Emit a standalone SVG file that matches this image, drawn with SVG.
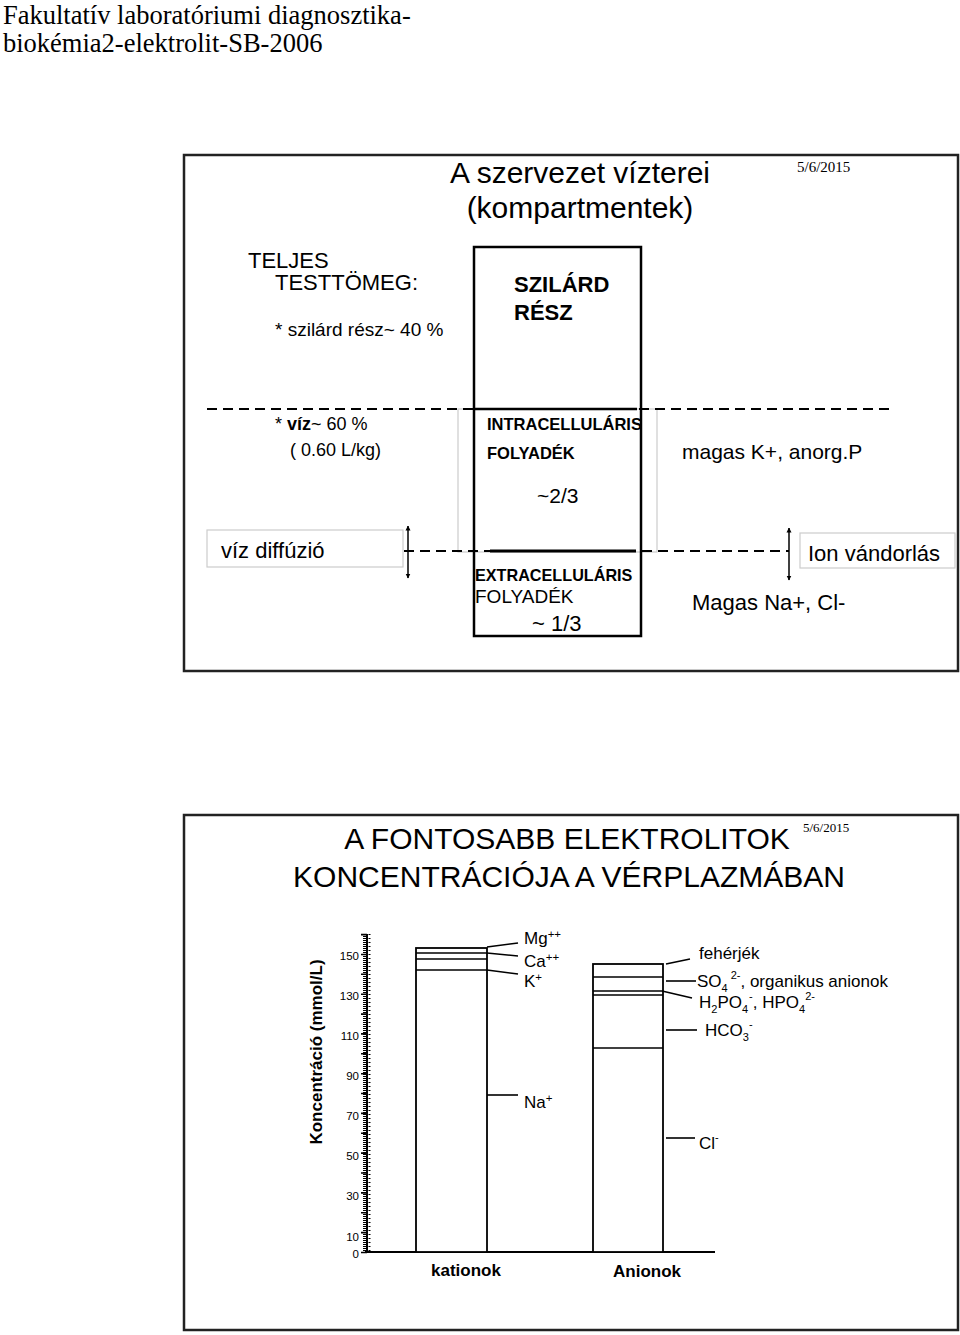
<svg xmlns="http://www.w3.org/2000/svg" width="960" height="1335" viewBox="0 0 960 1335">
<style>
.s{font-family:"Liberation Sans",Arial,sans-serif;fill:#000}
.b{font-weight:bold}
.t{font-family:"Liberation Serif","Times New Roman",serif;fill:#000}
.frame{fill:#fff;stroke:#222;stroke-width:2.5}
.dash{stroke:#000;stroke-width:2;stroke-dasharray:10 6;fill:none}
.thin{fill:none;stroke:#ccc;stroke-width:1.2}
.ln{stroke:#000;stroke-width:1.6;fill:none}
.bar{fill:#fff;stroke:#000;stroke-width:1.8}
</style>
<defs>
<marker id="ah" viewBox="0 0 10 10" refX="9" refY="5" markerWidth="5" markerHeight="6" orient="auto-start-reverse" markerUnits="userSpaceOnUse">
<path d="M0,0 L10,5 L0,10 Z" fill="#000"/>
</marker>
</defs>
<rect width="960" height="1335" fill="#fff"/>

<g id="header">
<text class="t" x="3" y="24" font-size="26.5">Fakultatív laboratóriumi diagnosztika-</text>
<text class="t" x="3" y="52" font-size="26.5">biokémia2-elektrolit-SB-2006</text>
</g>

<g id="slide1">
<rect class="frame" x="184" y="155" width="774" height="516"/>
<text class="s" x="580" y="183" font-size="30" text-anchor="middle">A szervezet vízterei</text>
<text class="s" x="580" y="218" font-size="30" text-anchor="middle">(kompartmentek)</text>
<text class="t" x="797" y="172" font-size="15">5/6/2015</text>
<text class="s" x="248" y="268" font-size="22">TELJES</text>
<text class="s" x="275" y="290" font-size="22">TESTTÖMEG:</text>
<text class="s" x="275" y="336" font-size="19">* szilárd rész~ 40 %</text>
<text class="s" x="275" y="430" font-size="18">* <tspan class="b">víz</tspan>~ 60 %</text>
<text class="s" x="290" y="456" font-size="18">( 0.60 L/kg)</text>
<text class="s" x="682" y="459" font-size="21">magas K+, anorg.P</text>
<text class="s" x="692" y="610" font-size="22">Magas Na+, Cl-</text>
</g>

<g id="ic-area">
<rect class="thin" x="458" y="409" width="199" height="143"/>
</g>

<g id="inner-box">
<rect x="474" y="247" width="167" height="389" fill="none" stroke="#000" stroke-width="2.5"/>
<text class="s b" x="514" y="292" font-size="22">SZILÁRD</text>
<text class="s b" x="514" y="320" font-size="22">RÉSZ</text>
<text class="s b" x="487" y="430" font-size="16.5">INTRACELLULÁRIS</text>
<text class="s b" x="487" y="459" font-size="16.5">FOLYADÉK</text>
<text class="s" x="537" y="503" font-size="21">~2/3</text>
<text class="s b" x="475" y="581" font-size="16.2">EXTRACELLULÁRIS</text>
<text class="s" x="475" y="603" font-size="19">FOLYADÉK</text>
<text class="s" x="532" y="631" font-size="22">~ 1/3</text>
</g>

<g id="viz-diffuzio">
<rect class="thin" x="207" y="530" width="196" height="37"/>
<text class="s" x="221" y="558" font-size="22">víz diffúzió</text>
</g>

<g id="ion-vandorlas">
<rect class="thin" x="800" y="533" width="155" height="35"/>
<text class="s" x="808" y="561" font-size="22">Ion vándorlás</text>
</g>

<g id="connectors">
<line class="dash" x1="207" y1="409" x2="893" y2="409"/>
<line x1="474" y1="409" x2="637" y2="409" stroke="#000" stroke-width="2.5"/>
<line class="dash" x1="404" y1="551" x2="490" y2="551"/>
<line x1="490" y1="551" x2="636" y2="551" stroke="#000" stroke-width="2.8"/>
<line class="dash" x1="642" y1="551" x2="789" y2="551"/>
<line x1="408" y1="526" x2="408" y2="578" stroke="#000" stroke-width="1.5" marker-start="url(#ah)" marker-end="url(#ah)"/>
<line x1="789" y1="528" x2="789" y2="580" stroke="#000" stroke-width="1.5" marker-start="url(#ah)" marker-end="url(#ah)"/>
</g>

<g id="slide2">
<rect class="frame" x="184" y="815" width="774" height="515"/>
<text class="s" x="567" y="849" font-size="30" text-anchor="middle">A FONTOSABB ELEKTROLITOK</text>
<text class="s" x="569" y="887" font-size="30" text-anchor="middle">KONCENTRÁCIÓJA A VÉRPLAZMÁBAN</text>
<text class="t" x="803" y="832" font-size="13">5/6/2015</text>
</g>

<g id="axis">
<text class="s b" transform="translate(322,1052) rotate(-90)" font-size="17" text-anchor="middle">Koncentráció (mmol/L)</text>
<line x1="367" y1="934" x2="367" y2="1252" stroke="#000" stroke-width="2"/>
<line x1="364.5" y1="934" x2="364.5" y2="1252" stroke="#000" stroke-width="3" stroke-dasharray="1 1"/>
<line x1="369.5" y1="934" x2="369.5" y2="1252" stroke="#000" stroke-width="2" stroke-dasharray="1 3"/>
<path d="M361,1252.5h6M361,1232.6h6M361,1212.7h6M361,1192.9h6M361,1173h6M361,1153.1h6M361,1133.3h6M361,1113.4h6M361,1093.5h6M361,1073.7h6M361,1053.8h6M361,1033.9h6M361,1014.1h6M361,994.2h6M361,974.3h6M361,954.5h6M361,934.6h6" stroke="#000" stroke-width="1.6"/>
<line x1="365" y1="1252" x2="715" y2="1252" stroke="#000" stroke-width="1.8"/>
<g class="s" font-size="11.5" text-anchor="end">
<text x="359" y="960">150</text>
<text x="359" y="1000">130</text>
<text x="359" y="1040">110</text>
<text x="359" y="1080">90</text>
<text x="359" y="1120">70</text>
<text x="359" y="1160">50</text>
<text x="359" y="1200">30</text>
<text x="359" y="1241">10</text>
<text x="359" y="1258">0</text>
</g>
</g>

<g id="kationok">
<rect class="bar" x="416" y="948" width="71" height="304"/>
<line class="ln" x1="416" y1="953" x2="487" y2="953"/>
<line class="ln" x1="416" y1="959" x2="487" y2="959"/>
<line class="ln" x1="416" y1="970" x2="487" y2="970"/>
<text class="s b" x="466" y="1276" font-size="17" text-anchor="middle">kationok</text>
</g>

<g id="kation-labels">
<text class="s" x="524" y="944" font-size="17">Mg<tspan font-size="11.5" dy="-6">++</tspan></text>
<text class="s" x="524" y="967" font-size="17">Ca<tspan font-size="11.5" dy="-6">++</tspan></text>
<text class="s" x="524" y="987" font-size="17">K<tspan font-size="11.5" dy="-6">+</tspan></text>
<text class="s" x="524" y="1108" font-size="17">Na<tspan font-size="11.5" dy="-6">+</tspan></text>
</g>

<g id="anionok">
<rect class="bar" x="593" y="964" width="70" height="288"/>
<line class="ln" x1="593" y1="977" x2="663" y2="977"/>
<line class="ln" x1="593" y1="991" x2="663" y2="991"/>
<line class="ln" x1="593" y1="995" x2="663" y2="995"/>
<line class="ln" x1="593" y1="1048" x2="663" y2="1048"/>
<text class="s b" x="647" y="1277" font-size="17" text-anchor="middle">Anionok</text>
</g>

<g id="anion-labels">
<text class="s" x="699" y="959" font-size="17">fehérjék</text>
<text class="s" x="697" y="987" font-size="17">SO<tspan font-size="11" dy="5">4</tspan><tspan font-size="11" dx="3" dy="-13">2-</tspan><tspan dy="8">, organikus anionok</tspan></text>
<text class="s" x="699" y="1008" font-size="17">H<tspan font-size="11" dy="5">2</tspan><tspan dy="-5">PO</tspan><tspan font-size="11" dy="5">4</tspan><tspan font-size="11" dx="1" dy="-13">-</tspan><tspan dy="8">, HPO</tspan><tspan font-size="11" dy="5">4</tspan><tspan font-size="11" dy="-13">2-</tspan></text>
<text class="s" x="705" y="1036" font-size="17">HCO<tspan font-size="11" dy="5">3</tspan><tspan font-size="11" dy="-13">-</tspan></text>
<text class="s" x="699" y="1149" font-size="17">Cl<tspan font-size="11" dy="-8">-</tspan></text>
</g>

<g id="chart-connectors">
<line class="ln" x1="487" y1="947" x2="518" y2="943"/>
<line class="ln" x1="487" y1="953" x2="518" y2="956"/>
<line class="ln" x1="487" y1="970" x2="518" y2="974"/>
<line class="ln" x1="487" y1="1095" x2="518" y2="1095"/>
<line class="ln" x1="666" y1="964" x2="690" y2="959"/>
<line class="ln" x1="666" y1="981" x2="696" y2="981"/>
<line class="ln" x1="662" y1="991" x2="692" y2="998"/>
<line class="ln" x1="666" y1="1030" x2="697" y2="1030"/>
<line class="ln" x1="666" y1="1138" x2="695" y2="1138"/>
</g>
</svg>
